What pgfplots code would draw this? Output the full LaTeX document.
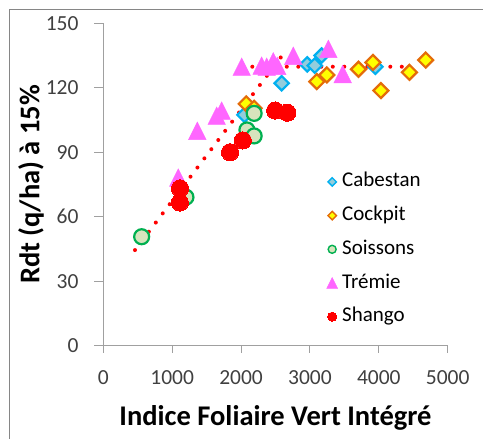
\documentclass[border=0pt]{standalone}
\usepackage{fontspec}
\setmainfont{Carlito}
\usepackage{pgfplots}
\pgfplotsset{compat=1.18}
\definecolor{cabF}{RGB}{146,205,220}
\definecolor{cabE}{RGB}{0,176,240}
\definecolor{cokF}{RGB}{255,255,0}
\definecolor{cokE}{RGB}{228,108,10}
\definecolor{soiF}{RGB}{215,228,189}
\definecolor{soiE}{RGB}{0,176,80}
\definecolor{treF}{RGB}{255,102,255}
\definecolor{shaF}{RGB}{255,0,0}
\definecolor{axgray}{RGB}{160,160,160}
\definecolor{framegray}{RGB}{134,134,134}
\definecolor{ticktext}{RGB}{64,64,64}
\pgfdeclareplotmark{tri}{%
  \pgfpathmoveto{\pgfqpoint{0pt}{\pgfplotmarksize}}%
  \pgfpathlineto{\pgfqpoint{-\pgfplotmarksize}{-\pgfplotmarksize}}%
  \pgfpathlineto{\pgfqpoint{\pgfplotmarksize}{-\pgfplotmarksize}}%
  \pgfpathclose\pgfusepathqfillstroke}
\begin{document}
\begin{tikzpicture}
\useasboundingbox (0pt,0pt) rectangle (483pt,-439pt);
\draw[framegray, line width=1pt] (9pt,-9pt) rectangle (500pt,-460pt);
\begin{axis}[
  at={(103.3pt,-345.7pt)}, anchor=south west,
  scale only axis, width=344.4pt, height=322.4pt,
  xmin=0, xmax=5000, ymin=0, ymax=150,
  xtick={0,1000,2000,3000,4000,5000},
  ytick={0,30,60,90,120,150},
  axis x line*=bottom, axis y line*=left,
  axis line style={axgray, line width=1pt},
  tick style={axgray, line width=1pt},
  tick align=outside,
  xtick style={/pgfplots/major tick length=7pt},
  ytick style={/pgfplots/major tick length=9pt},
  ticklabel style={font=\fontsize{21.5}{24}\selectfont, text=ticktext},
  xticklabel style={yshift=-17pt},
  yticklabel style={xshift=-17pt},
  /pgf/number format/assume math mode=true,
  /pgf/number format/set thousands separator={},
  scaled x ticks=false,
  xlabel={\bfseries Indice Foliaire Vert Intégré},
  ylabel={\bfseries Rdt (q/ha) à 15\%},
  xlabel style={at={(axis description cs:0.5,-0.246)}, anchor=base, font=\fontsize{28.5}{30}\selectfont},
  ylabel style={at={(axis description cs:-0.21,0.5)}, anchor=center, font=\fontsize{28.5}{30}\selectfont},
  legend style={at={(axis description cs:0.648,0.5428)}, anchor=north west, draw=none, fill=none,
    font=\fontsize{21}{21}\selectfont, text=black, row sep=11.7pt, inner sep=0pt,
    nodes={inner sep=1pt, text height=15pt, text depth=5pt},
    /tikz/every odd column/.append style={column sep=3.5pt}},
  legend cell align=left,
  clip=false,
]
% trend lines (linear + plateau)
\addplot[forget plot, shaF, line width=4pt, line cap=round, dash pattern=on 0pt off 11.5pt]
  coordinates {(460,44.5) (2590,134.7)};
\addplot[forget plot, shaF, line width=4pt, line cap=round, dash pattern=on 0pt off 11.5pt]
  coordinates {(2163,129.8) (4340,129.8)};
% Cabestan
\addplot[only marks, mark=square*, mark size=5.1pt, line width=2.2pt,
  mark options={rotate=45, draw=cabE, fill=cabF, solid},
  legend image post style={mark size=3pt, line width=1.4pt}]
  coordinates {(2050,107.4) (2590,122.1) (2960,130.9) (3070,130.3) (3170,135) (3950,129.8)};
\addlegendentry{Cabestan}
% Cockpit
\addplot[only marks, mark=square*, mark size=5.3pt, line width=2.2pt,
  mark options={rotate=45, draw=cokE, fill=cokF, solid},
  legend image post style={mark size=3pt, line width=1.4pt}]
  coordinates {(2075,112.5) (2190,110.5) (3100,122.9) (3245,126) (3705,128.6) (3915,131.8) (4030,118.7) (4445,127.2) (4680,132.9)};
\addlegendentry{Cockpit}
% Soissons
\addplot[only marks, mark=*, mark size=7.5pt, line width=2.2pt,
  mark options={draw=soiE, fill=soiF, solid},
  legend image post style={mark size=4pt, line width=1.4pt}]
  coordinates {(557,50.7) (1200,69.1) (2085,100.4) (2190,97.6) (2190,108.1)};
\addlegendentry{Soissons}
% Tremie
\addplot[only marks, mark=tri, mark size=8.8pt, line width=0.4pt,
  mark options={draw=treF, fill=treF, solid},
  legend image post style={mark size=5.5pt}]
  coordinates {(1089,78.2) (1365,100) (1646,107) (1718,109.4) (2009,129.8) (2299,130.3) (2372,129.8) (2468,132.3) (2525,130.2) (2758,134.9) (3267,138.1) (3475,126.4)};
\addlegendentry{Trémie}
% Shango
\addplot[only marks, mark=*, mark size=8.6pt, line width=0pt,
  mark options={draw=shaF, fill=shaF, solid},
  legend image post style={mark size=4.6pt}]
  coordinates {(1112,66.6) (1114,73.2) (1840,90) (2025,95.5) (2495,109.4) (2672,108.4)};
\addlegendentry{Shango}
\end{axis}
\end{tikzpicture}
\end{document}
